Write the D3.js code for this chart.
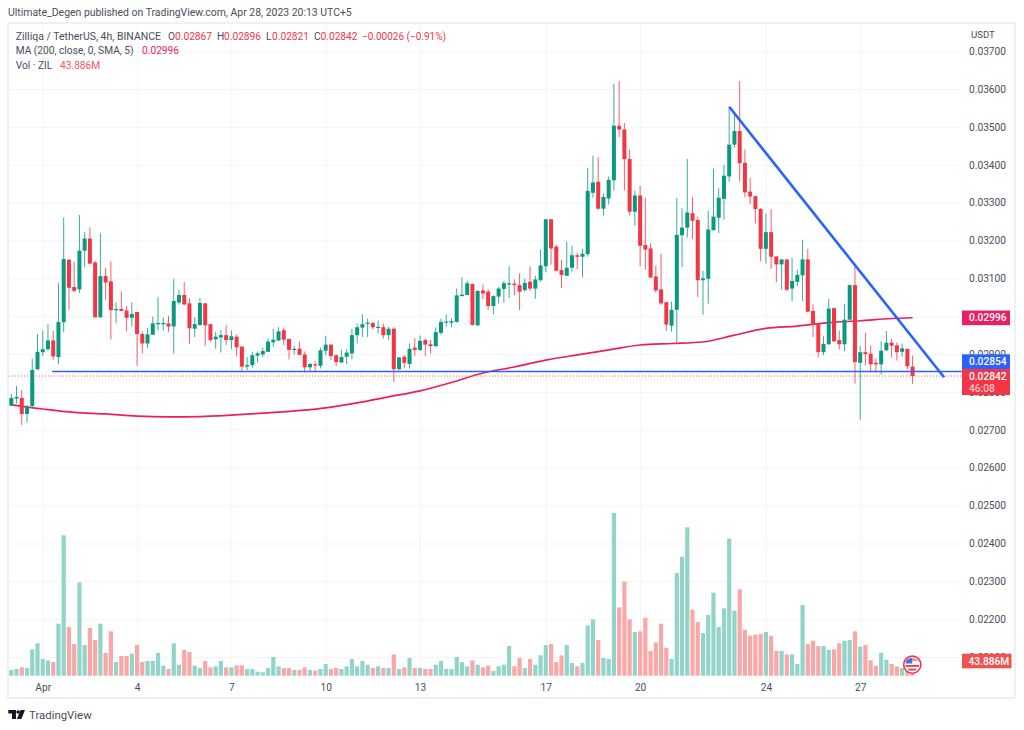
<!DOCTYPE html>
<html>
<head>
<meta charset="utf-8">
<script src="https://cdn.jsdelivr.net/npm/d3@7"></script>
<style>
html,body{margin:0;padding:0;background:#fff;}
svg{display:block;}
text{font-family:Roboto,"Liberation Sans",sans-serif;}
</style>
</head>
<body>
<svg id="chart" width="1024" height="730"></svg>
<script>
// prices are given in units of 0.00001 USDT, volumes in millions of ZIL
const opens = [2764,2783,2784,2742,2763,2860,2905,2913,2936,2892,
2984,3149,3077,3071,3173,3205,3142,2997,3106,3092,
3016,3019,3015,2996,3011,2953,2928,2951,2980,2980,
2981,2973,3036,3056,3034,2967,2977,3034,2979,2939,
2944,2950,2937,2946,2920,2867,2871,2896,2899,2906,
2931,2936,2963,2940,2911,2914,2899,2865,2873,2869,
2909,2925,2897,2878,2893,2902,2950,2970,2980,2982,
2970,2971,2950,2967,2860,2893,2874,2917,2911,2937,
2926,2921,2956,2983,2983,2985,3053,3056,3085,2976,
3068,3065,3027,3052,3072,3085,3086,3082,3069,3091,
3073,3095,3132,3256,3184,3122,3107,3128,3161,3157,
3164,3326,3355,3284,3311,3359,3503,3493,3415,3276,
3319,3188,3179,3105,3071,3037,2975,3017,3214,3234,
3272,3254,3095,3099,3227,3260,3310,3369,3453,3489,
3405,3329,3317,3283,3178,3222,3158,3137,3150,3073,
3091,3108,3150,3014,2979,2905,2926,3021,2937,2926,
2991,3082,2877,2905,2901,2877,2873,2910,2930,2923,
2906,2914,2867];
const highs = [2795,2816,2805,2766,2888,2953,2962,2979,2961,3087,
3261,3151,3144,3267,3222,3235,3146,3219,3128,3145,
3037,3065,3027,3037,3011,2960,2969,2999,3051,2997,
3001,3099,3070,3090,3047,2997,3048,3035,2979,2959,
2964,2976,2962,2952,2920,2892,2906,2907,2917,2941,
2967,2971,2970,2940,2921,2933,2907,2876,2882,2917,
2948,2925,2899,2911,2913,2967,2981,3005,2994,2985,
2989,2980,2972,2971,2893,2897,2928,2942,2949,2941,
2937,2970,2994,3004,2995,3073,3103,3093,3086,3068,
3084,3071,3055,3077,3093,3132,3097,3113,3099,3132,
3107,3176,3256,3256,3189,3148,3197,3186,3168,3178,
3392,3424,3420,3325,3369,3614,3621,3510,3440,3332,
3344,3312,3193,3134,3165,3037,3039,3312,3285,3415,
3315,3263,3120,3279,3390,3339,3400,3550,3536,3621,
3440,3365,3317,3286,3271,3283,3158,3150,3150,3154,
3123,3202,3178,3033,2979,2947,3046,3023,2962,3033,
3084,3134,2921,2956,2923,2889,2934,2961,2941,2931,
2928,2914,2896];
const lows = [2764,2770,2712,2719,2757,2858,2895,2909,2885,2873,
2958,3017,3063,3061,3129,3139,2997,2997,3043,2939,
2982,3013,2960,2973,2869,2902,2916,2951,2962,2962,
2959,2901,3031,3029,2927,2945,2975,2922,2932,2914,
2904,2924,2913,2894,2855,2858,2864,2878,2892,2906,
2919,2934,2924,2886,2899,2898,2851,2853,2853,2862,
2898,2884,2868,2876,2873,2886,2928,2945,2945,2965,
2955,2941,2937,2826,2858,2862,2862,2895,2908,2895,
2901,2918,2951,2972,2971,2983,3053,3056,2976,2974,
3045,3016,3005,3033,3035,3048,3055,3016,3065,3067,
3046,3091,3116,3136,3120,3074,3107,3118,3125,3103,
3157,3313,3280,3266,3295,3332,3473,3332,3266,3239,
3132,3123,3102,3062,3030,2961,2959,2931,3130,3208,
3204,3051,3004,3033,3227,3220,3255,3355,3445,3356,
3314,3295,3245,3145,3139,3125,3090,3070,3066,3040,
3079,3040,3011,2945,2892,2897,2924,2931,2912,2908,
2989,2822,2727,2870,2852,2852,2846,2908,2891,2883,
2893,2859,2821];
const closes = [2784,2787,2742,2762,2858,2906,2913,2936,2894,2985,
3151,3075,3067,3173,3205,3139,2997,3106,3089,3016,
3019,3014,2996,3006,2953,2928,2952,2981,2982,2982,
2973,3040,3056,3031,2968,2979,3035,2976,2937,2946,
2950,2937,2947,2918,2867,2871,2897,2902,2908,2933,
2938,2960,2938,2911,2914,2898,2865,2874,2870,2910,
2925,2895,2879,2892,2904,2950,2971,2979,2983,2971,
2972,2950,2967,2860,2891,2877,2914,2911,2935,2925,
2921,2958,2985,2986,2987,3055,3057,3087,2977,3067,
3060,3027,3053,3073,3087,3087,3082,3065,3088,3073,
3097,3134,3256,3179,3120,3109,3128,3161,3157,3165,
3331,3353,3284,3315,3360,3503,3493,3415,3276,3319,
3186,3176,3102,3068,3034,2978,3017,3215,3234,3274,
3252,3095,3100,3229,3263,3313,3371,3453,3489,3404,
3327,3316,3283,3178,3222,3157,3137,3150,3070,3093,
3109,3150,3012,2977,2905,2927,3020,2934,2926,2991,
3082,2879,2905,2900,2873,2873,2909,2930,2922,2905,
2915,2868,2842];
const volumes = [17.8,20.9,26.1,24,82.6,101.4,52.3,48.1,42.8,163,
440,152.6,99.3,292.6,96.1,149.4,111.8,163,71.1,139,
42.8,61.7,61.7,69,96.1,42.8,46,46,71.1,31.4,
20.9,101.4,34.5,80.5,74.2,31.4,24,46,26.1,29.3,
46,26.1,26.1,32.4,32.4,20.9,20.9,12.5,10.5,24,
58.5,29.3,24,24,17.8,17.8,26.1,17.8,15.7,20.9,
36.6,20.9,24,20.9,29.3,52.3,29.3,46,34.5,24,
29.3,24,24,66.9,20.9,26.1,55.4,24,24,20.9,
20.9,34.5,46,20.9,20.9,58.5,42.8,29.3,48.1,34.5,
26.1,31.4,14.6,29.3,34.5,93,29.3,55.4,24,52.3,
34.5,63.7,96.1,99.3,42.8,63.7,96.1,39.7,29.3,39.7,
157.8,176.6,111.8,55.4,52.3,510,214.2,294.7,176.6,136.9,
139,181.8,77.3,104.5,163,87.8,52.3,321.9,373,465,
206.9,168.2,133.8,190.2,260.2,152.6,211.1,429.5,203.8,270.7,
144.2,125.4,128.5,130.6,136.9,125.4,77.3,77.3,66.9,66.9,
36.6,221.5,99.3,109.7,93,93,80.5,82.6,101.4,109.7,
111.8,139,90.9,96.1,48.1,31.4,72.1,50.2,36.6,29.3,
24,22,43.886];
const maBars = [0,6,12,18,24,30,36,48,60,66,72,78,84,90,96,102,108,114,120,126,132,138,144,150,156,162,168,172];
const maValues = [2766,2755,2746,2742,2736,2734,2735,2744,2758,2771,2787,2803,2825,2850,2866,2884,2898,2911,2924,2928,2932,2950,2968,2974,2983,2988,2994,2996];
const priceTicks = d3.range(2100, 3701, 100);
const dateBars = [6,24,42,60,78,102,120,144,162];
const dateLabels = ["Apr","4","7","10","13","17","20","24","27"];
const supportLine = {bars:[7.8,181.4], price:[2854,2854]};
const downTrend = {bars:[137,178], price:[3553,2839]};
const lastPrice = 2842, lastMA = 2996, supportPrice = 2854, lastVol = 43.886;

const UP = "#089981", DOWN = "#f23645", VOLUP = "#92d3ca", VOLDOWN = "#f9a7a7";
const GRID = "#f3f4f6", TXT = "#4a4e5a", BLUE = "#2962ff", PINK = "#e91e63";

const svg = d3.select("#chart");
const paneL = 9, paneR = 962, paneT = 24, paneB = 698, edge = 1015;

const x = d3.scaleLinear().domain([0,172]).range([11.3, 912.6]);
const y = d3.scaleLinear().domain([2100,3700]).range([657.05,51.13]);
const v = d3.scaleLinear().domain([0,511.5]).range([675.7,512.5]);

// frame
svg.append("rect").attr("x",8).attr("y",23).attr("width",edge-8).attr("height",paneB-23)
  .attr("fill","#fff").attr("stroke","#eff0f4").attr("stroke-width",2);

// grid + axes
const priceFmt = d => (d/1e5).toFixed(5);
const gridY = svg.append("g").attr("transform",`translate(${paneL},0)`)
  .call(d3.axisRight(y).tickValues(priceTicks).tickSize(paneR-paneL).tickFormat(""));
gridY.select(".domain").remove();
gridY.selectAll("line").attr("stroke",GRID);
gridY.selectAll("text").remove();

const gridX = svg.append("g").attr("transform",`translate(0,${paneT})`)
  .call(d3.axisBottom(x).tickValues(dateBars).tickSize(677-paneT).tickFormat(""));
gridX.select(".domain").remove();
gridX.selectAll("line").attr("stroke",GRID);
gridX.selectAll("text").remove();

const axisP = svg.append("g").attr("transform",`translate(${paneR},0)`)
  .call(d3.axisRight(y).tickValues(priceTicks).tickSize(0).tickPadding(7).tickFormat(priceFmt));
axisP.select(".domain").remove();
axisP.selectAll("text").attr("fill",TXT).attr("font-size",10.2).attr("font-family","Roboto");

const axisD = svg.append("g").attr("transform",`translate(0,681)`)
  .call(d3.axisBottom(x).tickValues(dateBars).tickSize(0).tickPadding(3)
    .tickFormat((d,i)=>dateLabels[i]));
axisD.select(".domain").remove();
axisD.selectAll("text").attr("fill",TXT).attr("font-size",10.2).attr("font-family","Roboto");

// volume
const n = closes.length, idx = d3.range(n);
svg.append("g").selectAll("rect").data(idx).join("rect")
  .attr("x",i=>x(i)-2.1).attr("width",4.2)
  .attr("y",i=>v(volumes[i])).attr("height",i=>v(0)-v(volumes[i]))
  .attr("fill",i=>closes[i]>=opens[i]?VOLUP:VOLDOWN);

// moving average below candles
svg.append("path").attr("fill","none").attr("stroke",PINK).attr("stroke-width",1.7)
  .attr("d",d3.line().x((d,i)=>x(maBars[i])).y(d=>y(d)).curve(d3.curveMonotoneX)(maValues));

// candles
const candles = svg.append("g");
candles.selectAll("line").data(idx).join("line")
  .attr("x1",i=>x(i)).attr("x2",i=>x(i))
  .attr("y1",i=>y(highs[i])).attr("y2",i=>y(lows[i]))
  .attr("stroke",i=>closes[i]>=opens[i]?UP:DOWN).attr("stroke-width",1)
  .attr("stroke-opacity",.8);
candles.selectAll("rect").data(idx).join("rect")
  .attr("x",i=>x(i)-2).attr("width",4)
  .attr("y",i=>y(Math.max(opens[i],closes[i])))
  .attr("height",i=>Math.max(1.2,Math.abs(y(opens[i])-y(closes[i]))))
  .attr("fill",i=>closes[i]>=opens[i]?UP:DOWN);

// last price dotted line
svg.append("line").attr("x1",paneL).attr("x2",paneR).attr("y1",y(lastPrice)).attr("y2",y(lastPrice))
  .attr("stroke",DOWN).attr("stroke-width",1).attr("stroke-dasharray","1 2").attr("stroke-opacity",.8);

// drawn lines
const tl = d3.line().x(d=>x(d[0])).y(d=>y(d[1]));
svg.append("path").attr("fill","none").attr("stroke",BLUE).attr("stroke-width",1.4)
  .attr("d",tl(d3.zip(supportLine.bars,supportLine.price)));
svg.append("path").attr("fill","none").attr("stroke",BLUE).attr("stroke-width",2.6)
  .attr("d",tl(d3.zip(downTrend.bars,downTrend.price)));

// price labels
function tag(y0,h,color,wid){
  return svg.append("rect").attr("x",paneR).attr("y",y0).attr("width",wid).attr("height",h).attr("fill",color);
}
function tagText(s,yc,op,tx){
  svg.append("text").attr("x",tx||969).attr("y",yc).attr("dy","0.35em").attr("fill","#fff")
    .attr("fill-opacity",op||1).attr("font-size",10.2).attr("font-weight",500).text(s);
}
tag(y(lastMA)-7.2,14.6,PINK,48); tagText(priceFmt(lastMA),y(lastMA));
tag(354.3,15,BLUE,48); tagText(priceFmt(supportPrice),361.8);
tag(369,26,DOWN,48); tagText(priceFmt(lastPrice),376); tagText("46:08",388,.7);
tag(653.7,14.6,"#ef5350",49.5); tagText(lastVol.toFixed(3)+"M",661,1,968.5);

// legend
function seg(x0,y0,s,color,size){
  svg.append("text").attr("x",x0).attr("y",y0).attr("dy","0.35em").attr("fill",color)
    .attr("font-size",size||10.2).text(s);
}
seg(8,12.5,"Ultimate_Degen published on TradingView.com, Apr 28, 2023 20:13 UTC+5",TXT,10.45);
seg(15.7,36,"Zilliqa / TetherUS, 4h, BINANCE",TXT,10.5);
seg(168,36,"O",TXT); seg(175,36,"0.02867",DOWN);
seg(217,36,"H",TXT); seg(224,36,"0.02896",DOWN);
seg(266,36,"L",TXT); seg(272,36,"0.02821",DOWN);
seg(314,36,"C",TXT); seg(320.5,36,"0.02842",DOWN);
seg(362,36,"−0.00026 (−0.91%)",DOWN,10);
seg(15.7,50.5,"MA (200, close, 0, SMA, 5)",TXT); seg(142,50.5,"0.02996",PINK);
seg(15.7,65,"Vol · ZIL",TXT); seg(60,65,"43.886M","#f7525f");
seg(971,35,"USDT",TXT,9.6);

// TradingView mark
const logo = svg.append("g").attr("fill","#131722");
logo.append("path").attr("d","M8.3 710H16V719H12V713.5H8.3Z");
logo.append("circle").attr("cx",18.1).attr("cy",712).attr("r",1.8);
logo.append("path").attr("d","M20.6 710H25L21.3 719H16.9Z");
svg.append("text").attr("x",29).attr("y",719).attr("fill",TXT).attr("font-size",11.4).text("TradingView");

// session flag
const flag = svg.append("g").attr("transform","translate(912.3,664.7)");
flag.append("circle").attr("r",8.6).attr("fill","#fff").attr("stroke",DOWN).attr("stroke-width",1.6);
flag.append("path").attr("d","M-6.6 -1.2V-3.2A7 7 0 0 1 0 -6.8V-1.2Z").attr("fill","#3f6fe0");
flag.append("path").attr("d","M0 -6.8A7 7 0 0 1 4.5 -5.3L5.8 -3.6H0Z").attr("fill","#f4888f");
flag.append("path").attr("d","M-6.7 0.3H6.7V2.1H-6.7Z").attr("fill",DOWN);
flag.append("path").attr("d","M-5 4H5L3 5.8H-3Z").attr("fill",DOWN);
</script>
</body>
</html>
